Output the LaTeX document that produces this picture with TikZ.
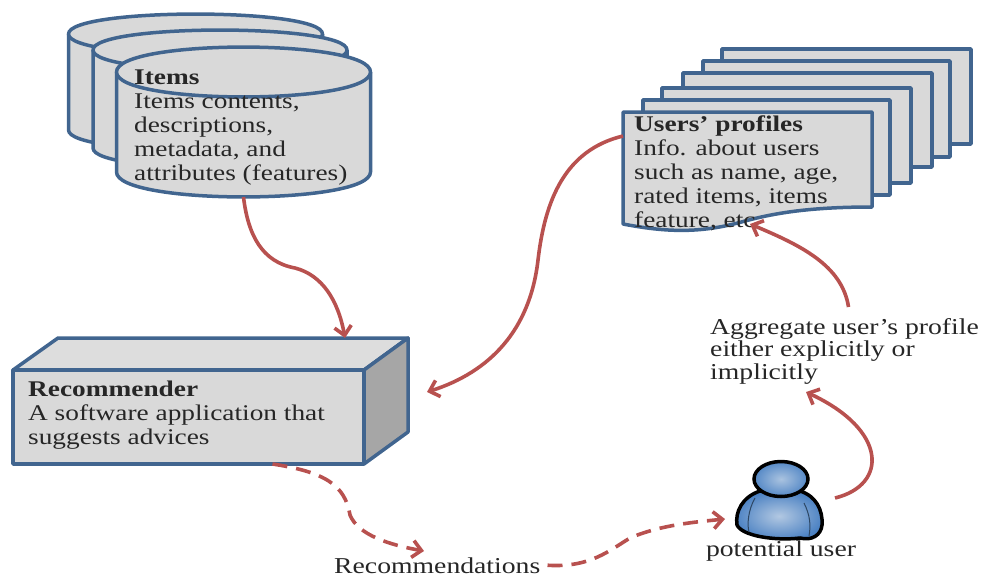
\documentclass[tikz,border=0pt]{standalone}
\usepackage{fontspec}
\setmainfont[FakeStretch=1.22]{Liberation Serif}
\usetikzlibrary{arrows.meta,calc}
\definecolor{edge}{HTML}{41658F}
\definecolor{face}{HTML}{D9D9D9}
\definecolor{sideface}{HTML}{A6A6A6}
\definecolor{conn}{HTML}{B8514F}
\tikzset{
  x=1pt,y=-1pt,
  solidshape/.style={draw=edge,fill=face,line width=3.5pt,line join=round},
  sidepart/.style={draw=edge,fill=sideface,line width=3.5pt,line join=round},
  ghost/.style={inner sep=0pt,outer sep=0pt,minimum width=#1},
  label/.style={anchor=north west,inner sep=0pt,align=left,font=\fontsize{22.4}{24}\selectfont,text=black!85},
  plainlabel/.style={anchor=north west,inner sep=0pt,align=left,font=\fontsize{22.7}{22.5}\selectfont,text=black!85},
  link/.style={draw=conn,line width=3.6pt,-{Straight Barb[length=9pt,width=17pt,line width=3.6pt]}},
  dashlink/.style={link,dash pattern=on 15pt off 9pt},
}
\newcommand{\cyl}[4]{% cx, top-centre y, bottom-centre y, ry
  \path[solidshape] (#1-127,#2) -- (#1-127,#3)
    .. controls (#1-127,#3+#4*1.33) and (#1+127,#3+#4*1.33) .. (#1+127,#3)
    -- (#1+127,#2);
  \path[solidshape] (#1-127,#2)
    .. controls (#1-127,#2-#4*1.33) and (#1+127,#2-#4*1.33) .. (#1+127,#2)
    .. controls (#1+127,#2+#4*1.33) and (#1-127,#2+#4*1.33) .. (#1-127,#2) -- cycle;
}
\begin{document}
\begin{tikzpicture}
\useasboundingbox (0,0) rectangle (981,576);
% cylinders
\cyl{195.5}{34}{130}{20}
\cyl{220}{50}{148}{20}
\cyl{243.5}{72}{172}{25}
% profile sheets
\path[solidshape] (722,49) rectangle (971,144);
\path[solidshape] (703,61) rectangle (950,157);
\path[solidshape] (683,73) rectangle (932,167);
\path[solidshape] (662,88) rectangle (911,183);
\path[solidshape] (643,100) rectangle (890,195);
\path[solidshape] (623,112) -- (872,112) -- (872,207)
  .. controls (810,207) and (775,213) .. (745,221)
  .. controls (700,234) and (665,232) .. (623,224) -- cycle;
% recommender box
\path[solidshape,fill=face!90!white] (13,370) -- (58,338) -- (408,338) -- (364,370) -- cycle;
\path[sidepart] (364,370) -- (408,338) -- (408,432) -- (364,464) -- cycle;
\path[solidshape] (13,370) rectangle (364,464);
% person
\shadedraw[draw=black,line width=3.5pt,inner color={rgb,255:red,178;green,200;blue,226},outer color={rgb,255:red,76;green,130;blue,195}]
  (760,491) .. controls (742,497) and (735,512) .. (737,525)
  .. controls (742,536) and (775,541) .. (800,538)
  .. controls (812,541) and (821,535) .. (822,525)
  .. controls (823,510) and (816,496) .. (800,491) -- cycle;
\shadedraw[draw=black,line width=3.5pt,inner color={rgb,255:red,170;green,195;blue,224},outer color={rgb,255:red,84;green,136;blue,198}]
  (781,479) ellipse [x radius=27, y radius=17.5];
\draw[edge!70!black,line width=1pt] (755,498) .. controls (748,510) and (747,525) .. (749,532);
\draw[edge!70!black,line width=1pt] (804,503) .. controls (810,515) and (811,525) .. (809,536);
% anchors for connectors
\node[ghost=253pt,minimum height=150pt] (itemsShape) at (243.5,122) {};
\node[ghost=249pt,minimum height=113pt] (usersShape) at (747.5,168.5) {};
\node[ghost=395pt,minimum height=126pt] (recShape) at (210.5,401) {};
\node[ghost=84pt,minimum height=46pt] (personShape) at (779,515) {};
% texts
\node[label] (items) at (134,70) {\textbf{Items}\\Items contents,\\descriptions,\\metadata, and\\attributes (features)};
\node[label] (users) at (634,116) {\textbf{Users’ profiles}\\Info. about users\\such as name, age,\\rated items, items\\feature, etc};
\node[label] (recommender) at (28,381) {\textbf{Recommender}\\A software application that\\suggests advices};
\node[plainlabel] (aggregate) at (710,318) {Aggregate user’s profile\\either explicitly  or\\implicitly};
\node[plainlabel,anchor=base] (potential) at (781,556) {potential user};
\node[plainlabel,anchor=base west] (recs) at (334,573) {Recommendations};
% connectors
\draw[link] (itemsShape.south) .. controls (248,235) and (262,262) .. (295,268)
  .. controls (322,275) and (338,300) .. ([xshift=134.5pt]recShape.north);
\draw[link] (usersShape.west |- 0,136) .. controls (565,150) and (545,200) .. (538,260)
  .. controls (530,330) and (490,372) .. ($(recShape.east)+(19,-9)$);
\draw[link] ($(personShape.east)+(14,-17)$) .. controls (888,485) and (888,430) .. (806,392);
\draw[link] ($(aggregate.north)+(4,-11)$) .. controls (842,265) and (800,245) .. (750,224);
\draw[dashlink] ([xshift=62pt]recShape.south) .. controls (325,472) and (345,485) .. (350,515)
  .. controls (358,535) and (390,545) .. (424,551);
\draw[dashlink] ($(recs.east)+(7,0)$) .. controls (590,568) and (610,550) .. (630,538)
  .. controls (660,525) and (695,522) .. (725,519);
\end{tikzpicture}
\end{document}
